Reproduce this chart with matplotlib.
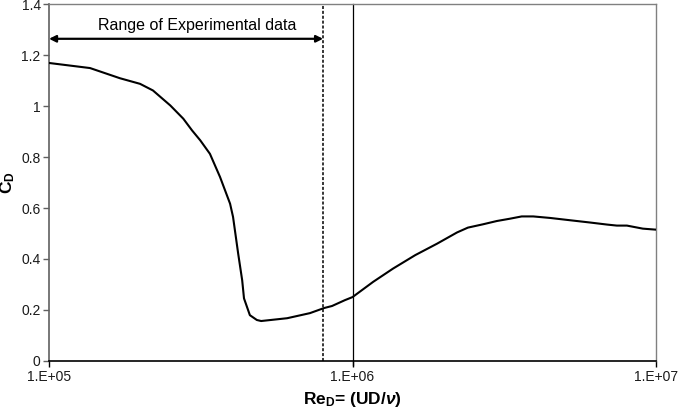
"""
drag coefficient of a cylinder versus reynolds number
the experimental range is marked with a dashed line and an arrow
"""

import matplotlib
matplotlib.use("Agg")
import matplotlib.pyplot as plt

plt.rcParams["font.family"] = ["Liberation Sans", "DejaVu Sans"]
plt.rcParams["mathtext.fontset"] = "custom"
plt.rcParams["mathtext.rm"] = "Liberation Sans:bold"
plt.rcParams["mathtext.it"] = "Liberation Sans:bold:italic"
plt.rcParams["mathtext.bf"] = "Liberation Sans:bold"

# Reynolds number and drag coefficient
re = [1.0e5, 1.365e5, 1.713e5, 1.995e5, 2.20e5, 2.51e5, 2.77e5, 2.96e5,
      3.15e5, 3.39e5, 3.66e5, 3.95e5, 4.04e5, 4.20e5, 4.33e5, 4.39e5,
      4.59e5, 4.84e5, 5.0e5, 6.09e5, 7.24e5, 8.06e5, 8.56e5, 9.44e5,
      1.0e6, 1.17e6, 1.36e6, 1.61e6, 1.90e6, 2.21e6, 2.40e6, 2.69e6,
      2.99e6, 3.30e6, 3.61e6, 3.94e6, 4.48e6, 5.21e6, 6.07e6, 6.90e6,
      7.43e6, 8.02e6, 9.05e6, 1.0e7]
cd = [1.17, 1.15, 1.11, 1.088, 1.062, 1.003, 0.951, 0.905,
      0.866, 0.813, 0.722, 0.617, 0.565, 0.421, 0.316, 0.245,
      0.179, 0.160, 0.156, 0.167, 0.187, 0.207, 0.215, 0.238,
      0.25, 0.31, 0.362, 0.415, 0.46, 0.504, 0.523, 0.536,
      0.549, 0.558, 0.567, 0.567, 0.561, 0.552, 0.543, 0.535,
      0.531, 0.531, 0.519, 0.515]

re_min = 1.0e5
re_max_exp = 8.0e5
re_mark = 1.0e6
arrow_cd = 1.265
range_label = "Range of Experimental data"

yticks = [0, 0.2, 0.4, 0.6, 0.8, 1.0, 1.2, 1.4]
ytick_labels = ["0", "0.2", "0.4", "0.6", "0.8", "1", "1.2", "1.4"]
xticks = [1e5, 1e6, 1e7]
xtick_labels = ["1.E+05", "1.E+06", "1.E+07"]

fig = plt.figure(figsize=(6.79, 4.15), dpi=100)
ax = fig.add_axes([0.0722, 0.1308, 0.8939, 0.8585])

ax.plot(re, cd, color="black", lw=1.5, zorder=3)

ax.axvline(re_mark, color="black", lw=0.9, zorder=2, clip_on=False,
           ymin=-0.012, ymax=1)
ax.axvline(re_max_exp, color="black", lw=1.1, ls=(0, (2, 1.2)), zorder=2)

ax.annotate("", xy=(re_min, arrow_cd), xytext=(re_max_exp, arrow_cd),
            arrowprops=dict(arrowstyle="<|-|>", color="black", lw=1.6,
                            mutation_scale=10, shrinkA=0, shrinkB=0))
ax.text(3.07e5, 1.288, range_label, ha="center", va="bottom", fontsize=11.5)

ax.set_xscale("log")
ax.set_xlim(1e5, 1e7)
ax.set_ylim(0, 1.4)
ax.set_xticks(xticks)
ax.set_xticklabels(xtick_labels)
ax.xaxis.set_minor_locator(matplotlib.ticker.NullLocator())
ax.set_yticks(yticks)
ax.set_yticklabels(ytick_labels)
ax.tick_params(axis="y", direction="out", length=4, width=1, color="#606060",
               labelsize=10, pad=2, labelcolor="#1a1a1a")
ax.tick_params(axis="x", direction="out", length=4, width=1, color="black",
               labelsize=10, pad=3, labelcolor="#1a1a1a")

for side in ["top", "right"]:
    ax.spines[side].set_color("#808080")
    ax.spines[side].set_linewidth(1)
ax.spines["left"].set_color("#606060")
ax.spines["left"].set_linewidth(1.2)
ax.spines["bottom"].set_color("black")
ax.spines["bottom"].set_linewidth(1.2)

ax.set_xlabel(r"Re$_\mathrm{D}$= (UD/$\nu$)", fontsize=12.5, fontweight="bold")
ax.xaxis.set_label_coords(0.5, -0.083)
ax.set_ylabel(r"C$_\mathrm{D}$", fontsize=12.5, fontweight="bold")
ax.yaxis.set_label_coords(-0.052, 0.5)

fig.savefig("out.png", dpi=100)
